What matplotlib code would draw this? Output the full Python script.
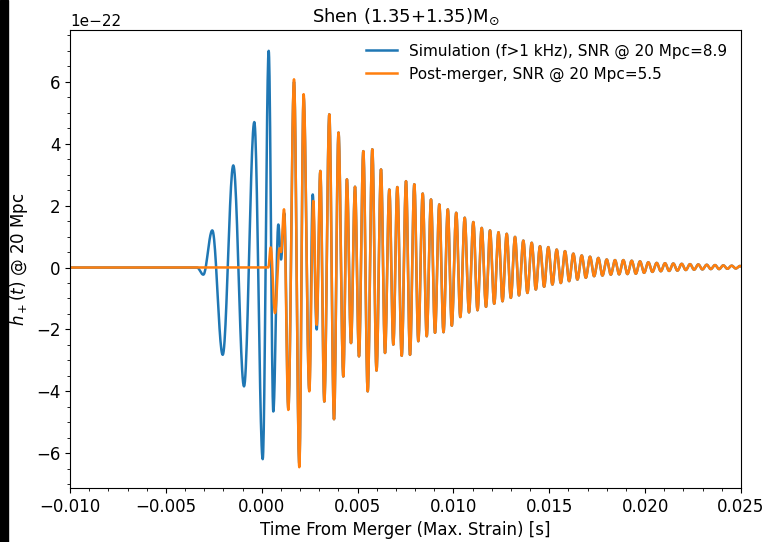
import numpy as np
import matplotlib.pyplot as plt
from matplotlib.patches import Rectangle

# Extrema of the strain (time in ms, h_+ in units of 1e-22)
sim_t_ms = [-3.375, -3.046, -2.577, -2.034, -1.481, -0.923, -0.386, 0.052, 0.365,
            0.605, 0.866, 1.007, 1.179, 1.388, 1.685, 1.961, 2.186, 2.483, 2.661, 2.869]
sim_h = [0.0, -0.23, 1.20, -2.82, 3.30, -3.84, 4.70, -6.19, 7.00,
         -4.65, 1.39, 0.26, 1.75, -4.55, 6.00, -6.35, 5.50, -3.95, 2.36, -2.00]

pm_t_ms = [0.344, 0.469, 0.694, 0.928, 1.007, 1.163, 1.388, 1.685, 1.961, 2.186,
           2.483, 2.692, 2.869, 3.057, 3.265, 3.526, 3.771, 4.006, 4.256, 4.444,
           4.658, 4.867, 5.075, 5.300, 5.529, 5.769, 5.988, 6.223, 6.432, 6.656,
           6.865, 7.073, 7.303, 7.527, 7.736, 7.960, 8.169, 8.398, 8.607, 8.831,
           9.040, 9.264, 9.483, 9.707, 9.916, 10.146, 10.360, 10.589, 10.813, 11.038,
           11.257, 11.476, 11.700, 11.909, 12.128, 12.352, 12.561, 12.780, 12.994, 13.213,
           13.422, 13.646, 13.860, 14.084, 14.298, 14.517, 14.731, 14.950, 15.164, 15.388,
           15.602, 15.821, 16.035, 16.254, 16.468, 16.692, 16.906, 17.125, 17.339, 17.558,
           17.772, 17.996, 18.210, 18.429, 18.643, 18.862, 19.076, 19.300, 19.514, 19.733,
           19.947, 20.166, 20.380, 20.604, 20.818, 21.037, 21.251, 21.470, 21.684, 21.908,
           22.122, 22.341, 22.555, 22.774, 22.988, 23.212, 23.426, 23.645, 23.859, 24.078,
           24.292, 24.516, 24.730, 24.949, 25.170]
pm_h = [0.0, 0.65, -1.47, 0.62, 0.50, 1.88, -4.60, 6.08, -6.45, 5.60,
        -4.00, 2.15, -1.85, 3.12, -4.33, 4.95, -4.90, 4.36, -3.52, 2.85,
        -2.44, 2.61, -2.87, 3.76, -4.00, 3.82, -3.33, 3.17, -2.76, 2.52,
        -2.49, 2.60, -2.85, 2.79, -2.82, 2.69, -2.38, 2.39, -2.22, 2.20,
        -2.11, 2.04, -2.09, 1.88, -1.88, 1.77, -1.60, 1.61, -1.45, 1.47,
        -1.38, 1.28, -1.27, 1.20, -1.17, 1.14, -1.09, 1.09, -0.98, 0.99,
        -0.90, 0.87, -0.82, 0.80, -0.71, 0.69, -0.62, 0.66, -0.55, 0.58,
        -0.50, 0.53, -0.44, 0.45, -0.39, 0.39, -0.33, 0.35, -0.28, 0.31,
        -0.26, 0.26, -0.23, 0.24, -0.22, 0.24, -0.21, 0.22, -0.20, 0.20,
        -0.17, 0.17, -0.14, 0.15, -0.12, 0.14, -0.11, 0.13, -0.10, 0.12,
        -0.08, 0.11, -0.07, 0.10, -0.06, 0.09, -0.05, 0.08, -0.05, 0.07,
        -0.04, 0.06, -0.03, 0.05, -0.03]

t_start = -0.010
t_end = 0.025
scale = 1e-22


def waveform(t_ms, h, n=24):
    """Join successive extrema with half-cosine arcs, flat before the first one."""
    t = np.asarray(t_ms) * 1e-3
    h = np.asarray(h) * scale
    ts = [t_start, t[0]]
    hs = [0.0, h[0]]
    s = np.linspace(0, 1, n)[1:]
    for i in range(len(t) - 1):
        ts.extend(t[i] + (t[i + 1] - t[i]) * s)
        hs.extend(h[i] + (h[i + 1] - h[i]) * (1 - np.cos(np.pi * s)) / 2)
    return np.array(ts), np.array(hs)


# the full simulation runs underneath the post-merger part once they coincide
pm_t_arr = np.array(pm_t_ms)
late = pm_t_arr > sim_t_ms[-1]
sim_full_t = np.concatenate([sim_t_ms, pm_t_arr[late]])
sim_full_h = np.concatenate([sim_h, np.array(pm_h)[late]])

t_sim, h_sim = waveform(sim_full_t, sim_full_h)
t_pm, h_pm = waveform(pm_t_ms, pm_h)

plt.rcParams['font.size'] = 12

fig = plt.figure(figsize=(7.65, 5.42), dpi=100)
ax = fig.add_axes([0.0915, 0.0996, 0.8771, 0.845])

ax.plot(t_sim, h_sim, color='#1f77b4', lw=1.8,
        label='Simulation (f>1 kHz), SNR @ 20 Mpc=8.9')
ax.plot(t_pm, h_pm, color='#ff7f0e', lw=1.8,
        label='Post-merger, SNR @ 20 Mpc=5.5')

ax.set_xlim(t_start, t_end)
ax.set_xticks(np.arange(-0.010, 0.0251, 0.005))
ax.set_xticks(np.arange(-0.010, 0.0251, 0.001), minor=True)
ax.set_yticks(np.arange(-6, 6.1, 2) * scale)
ax.set_yticks(np.arange(-7, 7.6, 0.5) * scale, minor=True)
ax.tick_params(which='minor', length=2.5, width=0.6)
ax.yaxis.get_offset_text().set_fontsize(11)

ax.set_title(r'Shen (1.35+1.35)M$_{\odot}$', fontsize=13)
ax.set_xlabel('Time From Merger (Max. Strain) [s]')
ax.set_ylabel(r'$h_+(t)$ @ 20 Mpc')
ax.legend(loc='upper right', frameon=False, fontsize=11)

# dark strip along the left edge
fig.patches.append(Rectangle((0, 0), 8 / 765, 1, transform=fig.transFigure,
                             color='black', zorder=10))

fig.savefig('out.png', dpi=100)
